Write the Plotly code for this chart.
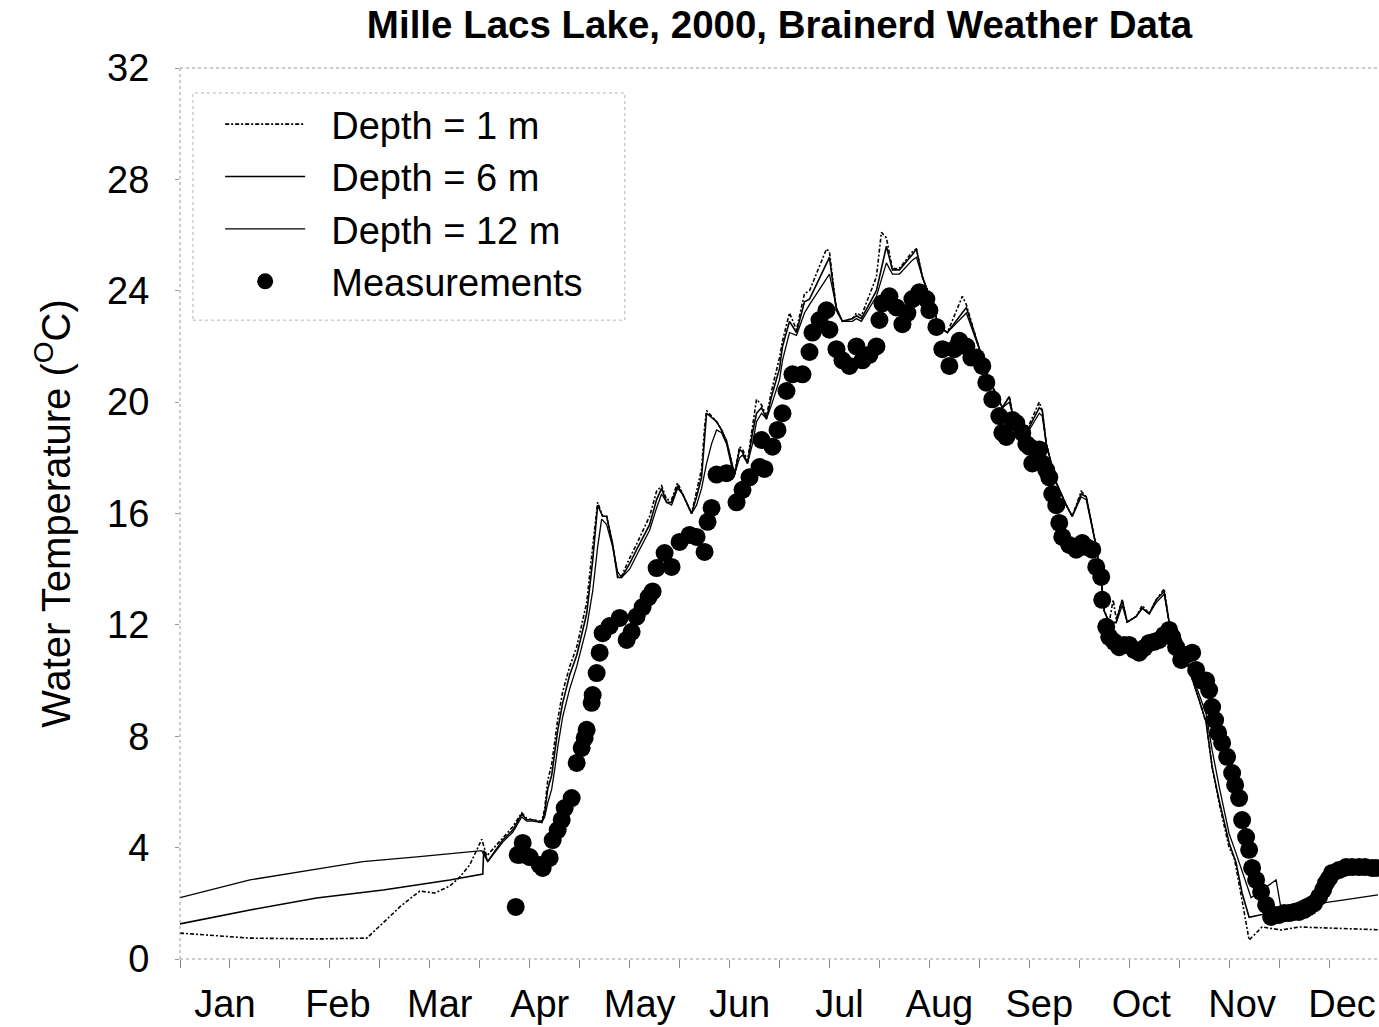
import plotly.graph_objects as go

# ---------------- data (day of year, water temperature in deg C) ----------------
month_pos = [13.5, 47.4, 78, 108, 138, 168, 198, 228, 258, 288.6, 318.9, 348.9]
month_labels = ["Jan", "Feb", "Mar", "Apr", "May", "Jun", "Jul", "Aug", "Sep", "Oct", "Nov", "Dec"]
y_ticks = [0, 4, 8, 12, 16, 20, 24, 28, 32]

depth1_day = [0, 21, 41, 55, 56.1, 60.9, 66, 72, 76.5, 81, 84, 87, 89.1, 90.6, 92.1, 96.9, 99.9, 102.6,
              104.1, 105.9, 108.6, 109.5, 110.4, 111.6, 112.5, 113.4, 114.9, 117, 119.1, 120.6, 122.1,
              123.9, 125.4, 126.9, 128.1, 129.9, 131.4, 132.6, 135, 137.1, 141, 143.1, 144.6, 146.1,
              147.6, 149.4, 150.9, 153.6, 155.1, 156.6, 157.5, 158.1, 161.1, 162.6, 164.1, 165.6, 166.5,
              168, 168.9, 170.4, 171.9, 173.1, 174.6, 176.1, 177.6, 180, 180.9, 183, 185.1, 187.5, 189,
              194.1, 195, 197.1, 198.9, 201.9, 203.1, 204.6, 209.1, 210.6, 212.1, 213.9, 216, 219.9,
              221.1, 222.9, 224.4, 228, 230.4, 234.9, 236.1, 240, 243, 246.9, 249, 249.9, 252.9, 255,
              258, 258.9, 260.1, 263.1, 266.1, 267.9, 270.6, 272.1, 275.1, 276.6, 277.5, 279, 280.2,
              281.1, 282.9, 284.4, 287.1, 288.9, 291, 293.1, 295.5, 297, 300, 303, 306, 308.1, 309.9,
              312, 315, 316.5, 318.9, 321, 324.9, 330.6, 336, 348, 359.7]
depth1_temp = [0.93, 0.75, 0.72, 0.75, 0.75, 1.29, 1.87, 2.44, 2.37, 2.62, 2.94, 3.38, 3.92, 4.3, 3.7,
               4.35, 4.75, 5.25, 5.05, 5.0, 4.95, 5.4, 6.4, 7.0, 7.8, 8.6, 9.6, 10.5, 11.2, 12.0, 12.8,
               14.8, 16.4, 15.9, 15.9, 14.9, 13.75, 13.75, 14.4, 14.9, 15.9, 16.8, 17.0, 16.5, 16.5,
               17.1, 16.7, 16.0, 16.8, 17.6, 19.1, 19.7, 19.3, 19.0, 18.6, 17.8, 17.4, 18.4, 18.3,
               17.9, 19.1, 20.1, 19.9, 19.5, 20.4, 21.6, 22.2, 23.2, 22.6, 23.9, 24.0, 25.5, 25.4,
               23.3, 22.9, 23.0, 23.2, 23.1, 24.5, 26.1, 25.9, 24.8, 24.8, 25.4, 25.5, 24.5, 24.0,
               22.7, 22.5, 23.8, 23.5, 21.9, 20.8, 19.8, 20.2, 19.6, 19.0, 19.2, 20.0, 19.7, 18.5,
               17.1, 16.3, 15.9, 16.8, 16.6, 14.8, 13.6, 12.5, 12.1, 12.9, 12.2, 12.9, 12.1, 12.3,
               12.7, 12.4, 12.9, 13.3, 12.07, 11.7, 10.4, 9.3, 8.5, 6.9, 5.6, 4.0, 3.66, 2.1, 0.68,
               1.15, 1.04, 1.15, 1.1, 1.05]

depth6_day = [0, 21, 41, 61, 81, 90.9, 91.2, 92.4, 96.9, 99.9, 102.6, 104.1, 105.9, 108.6, 109.5, 110.4,
              111.6, 112.5, 113.4, 114.9, 117, 119.1, 120.6, 122.1, 123.9, 125.4, 126.9, 128.1, 129.9,
              131.4, 132.6, 135, 137.1, 141, 143.1, 144.6, 146.1, 147.6, 149.4, 150.9, 153.6, 155.1,
              156.6, 157.5, 158.1, 161.1, 162.6, 164.1, 165.6, 166.5, 168, 168.9, 170.4, 171.9, 173.1,
              174.6, 176.1, 177.6, 180, 180.9, 183, 185.1, 187.5, 189, 195, 197.1, 198.9, 201.9, 203.1,
              204.6, 209.1, 212.1, 213.9, 216, 219.9, 221.1, 222.9, 224.4, 228, 230.4, 236.1, 240, 243,
              246.9, 249, 249.9, 252.9, 255, 258, 258.9, 260.1, 263.1, 266.1, 267.9, 270.6, 272.1,
              275.1, 276.6, 277.5, 279, 281.1, 282.9, 284.4, 287.1, 288.9, 291, 293.1, 295.5, 297, 300,
              303, 306, 308.1, 309.9, 312, 315, 317.1, 318.9, 321, 324.9, 330.6, 336, 342, 348, 354,
              359.7]
depth6_temp = [1.26, 1.76, 2.19, 2.48, 2.84, 3.05, 3.9, 3.5, 4.27, 4.63, 5.2, 5.0, 5.0, 4.9, 5.25, 6.1,
               6.6, 7.4, 8.2, 9.2, 10.2, 10.9, 11.7, 12.4, 14.3, 16.3, 15.9, 15.9, 14.9, 13.7, 13.7,
               14.2, 14.7, 15.6, 16.5, 16.9, 16.4, 16.4, 17.0, 16.7, 16.0, 16.6, 17.3, 18.9, 19.6,
               19.3, 19.0, 18.6, 17.8, 17.4, 18.3, 18.2, 17.8, 18.9, 19.6, 19.8, 19.4, 20.2, 21.2,
               22.0, 22.9, 22.5, 23.6, 23.7, 25.2, 23.3, 22.9, 23.0, 23.1, 23.0, 24.0, 25.6, 24.75,
               24.75, 25.3, 25.5, 24.5, 24.0, 22.7, 22.5, 23.4, 21.9, 20.8, 19.8, 20.2, 19.6, 19.0,
               19.1, 19.8, 19.7, 18.5, 17.1, 16.3, 15.9, 16.7, 16.6, 14.8, 13.6, 12.5, 12.07, 12.1,
               12.9, 12.1, 12.3, 12.6, 12.4, 12.9, 13.2, 12.07, 11.7, 10.4, 9.3, 8.5, 6.9, 5.7, 4.17,
               3.45, 2.37, 1.5, 1.6, 1.8, 2.05, 2.4, 2.9, 3.15, 3.25]

depth12_day = [0, 21, 41, 54.9, 71.1, 90.6, 92.4, 96.9, 99.9, 102.6, 104.1, 105.9, 108.6, 109.5, 110.4,
               111.6, 112.5, 113.4, 114.9, 117, 119.1, 120.6, 122.1, 123.9, 125.4, 126.6, 128.1, 129.9,
               131.4, 132.6, 135, 137.1, 141, 143.1, 144.6, 146.1, 147.6, 149.4, 150.9, 153.6, 155.1,
               156.6, 158.1, 159.6, 161.1, 162.6, 164.1, 165.6, 166.5, 168, 168.9, 170.4, 171.9, 173.1,
               174.6, 176.1, 177.6, 180, 180.9, 183, 185.1, 187.5, 189, 195, 197.1, 198.9, 201.9, 203.1,
               204.6, 209.1, 212.1, 213.9, 216, 219.9, 221.1, 222.9, 224.4, 228, 230.4, 236.1, 240, 243,
               246.9, 249, 249.9, 252.9, 255, 258, 258.9, 260.1, 263.1, 266.1, 267.9, 270.6, 272.1,
               275.1, 276.6, 277.5, 279, 281.1, 282.9, 284.4, 287.1, 288.9, 291, 293.1, 295.5, 297, 300,
               303, 306, 308.1, 309.9, 312, 315, 316.5, 321.6, 329.1, 330.6, 336, 348, 359.7]
depth12_temp = [2.2, 2.84, 3.23, 3.5, 3.67, 3.89, 3.5, 4.2, 4.55, 5.1, 4.95, 4.95, 4.9, 5.1, 5.6, 6.1,
                6.8, 7.6, 8.7, 9.7, 10.5, 11.2, 11.9, 13.2, 14.8, 15.8, 15.6, 14.8, 13.9, 13.7, 14.0,
                14.5, 15.4, 16.2, 16.7, 16.4, 16.3, 16.9, 16.7, 16.0, 16.3, 16.9, 17.8, 18.5, 19.0,
                18.9, 18.5, 17.7, 17.4, 18.0, 18.1, 17.8, 18.5, 19.3, 19.6, 19.4, 19.9, 20.8, 21.5,
                22.5, 22.4, 23.2, 23.5, 24.6, 23.4, 22.9, 22.9, 23.0, 22.9, 23.8, 25.0, 24.6, 24.6,
                25.1, 25.2, 24.5, 24.0, 22.7, 22.5, 23.2, 21.9, 20.8, 19.8, 20.0, 19.6, 19.0, 19.0,
                19.6, 19.5, 18.5, 17.1, 16.3, 15.9, 16.6, 16.5, 14.8, 13.6, 12.5, 12.07, 12.07, 12.7,
                12.1, 12.3, 12.6, 12.4, 12.8, 13.1, 12.1, 11.7, 10.5, 9.5, 8.8, 7.5, 6.2, 4.5, 4.0,
                2.2, 2.84, 1.8, 1.9, 2.1, 2.3]

meas_day = [100.8, 101.4, 102, 102.9, 105, 108, 108.9, 111, 111.9, 113.4, 114.6, 115.5, 117.6, 119.1,
            120.6, 121.5, 122.1, 123.6, 123.9, 125.1, 126, 126.9, 129, 132, 134.1, 135.6, 137.1, 138.9,
            140.7, 141.9, 143.1, 145.5, 147.6, 150, 153, 155.1, 157.5, 158.4, 159.6, 161.1, 164.1,
            167.1, 168.9, 171, 174, 174.6, 175.5, 177.9, 179.4, 180.9, 182.1, 183.9, 186.9, 189, 189.9,
            192, 194.1, 195, 197.1, 198.9, 201, 203.1, 204.9, 207, 209.1, 210, 210.9, 213, 215.1,
            216.9, 218.4, 219.9, 222, 224.1, 225, 227.1, 228.9, 231, 232.5, 234, 236.1, 237.6, 239.1,
            240.9, 242.1, 243.9, 246, 246.9, 248.1, 249.9, 251.1, 252.9, 254.1, 255, 255.9, 258,
            258.9, 260.1, 261, 261.9, 263.1, 264, 264.9, 267, 269.1, 270.9, 272.1, 273.9, 275.1,
            276.6, 276.9, 278.1, 279, 280.5, 282, 283.5, 285, 286.5, 288, 289.5, 291, 292.5, 294,
            295.5, 297, 297.9, 299.1, 300.6, 302.1, 303.9, 305.1, 306.9, 308.1, 309, 309.9, 310.8,
            311.7, 312.9, 314.4, 315.9, 316.8, 318, 318.9, 320.1, 321, 321.9, 323.1, 324.6, 326.1,
            327.6, 328.8, 330, 331.5, 333, 334.5, 336, 337.5, 339, 340.5, 342, 343.2, 344.1, 345,
            345.9, 348, 350.1, 351.9, 354, 355.8, 357.9, 359.1]
meas_temp = [1.87, 3.74, 3.74, 4.17, 3.66, 3.38, 3.27, 3.63, 4.27, 4.63, 5.0, 5.42, 5.78, 7.04, 7.58,
             7.94, 8.23, 9.2, 9.48, 10.27, 11.0, 11.7, 11.96, 12.25, 11.46, 11.75, 12.3, 12.64, 13.0,
             13.2, 14.04, 14.58, 14.08, 14.98, 15.23, 15.16, 14.62, 15.7, 16.2, 17.4, 17.45, 16.4,
             16.85, 17.3, 17.67, 18.64, 17.6, 18.4, 19.0, 19.6, 20.4, 21.0, 21.0, 21.8, 22.5, 22.95,
             23.3, 22.6, 21.9, 21.5, 21.3, 22.0, 21.5, 21.7, 22.0, 22.95, 23.55, 23.8, 23.4, 22.8,
             23.2, 23.7, 23.95, 23.7, 23.3, 22.7, 21.9, 21.3, 21.9, 22.2, 22.0, 21.6, 21.6, 21.3,
             20.7, 20.1, 19.5, 18.9, 18.75, 19.36, 19.25, 18.9, 18.5, 18.4, 17.8, 18.3, 17.8, 17.56,
             17.3, 16.7, 16.3, 15.66, 15.16, 14.87, 14.7, 14.94, 14.8, 14.7, 14.08, 13.72, 12.9,
             11.93, 11.57, 11.39, 11.2, 11.28, 11.28, 11.1, 11.0, 11.17, 11.35, 11.39, 11.46, 11.64,
             11.82, 11.57, 11.2, 10.74, 10.92, 11.0, 10.38, 10.0, 10.0, 9.66, 9.05, 8.58, 8.12, 7.76,
             7.26, 6.68, 6.25, 5.78, 4.99, 4.38, 3.92, 3.27, 2.84, 2.41, 1.94, 1.51, 1.58, 1.58,
             1.65, 1.65, 1.69, 1.69, 1.76, 1.87, 2.0, 2.23, 2.48, 2.73, 2.9, 3.09, 3.2, 3.3, 3.3,
             3.3, 3.3, 3.27, 3.27]

FONT = "Liberation Sans, Arial, Helvetica, sans-serif"
NB = "\u00a0\u00a0"  # small gap between legend sample and label

fig = go.Figure()

fig.add_trace(go.Scatter(
    x=meas_day, y=meas_temp, mode="markers", name=NB + "Measurements",
    marker=dict(color="black", size=18, line=dict(width=0)), legendrank=4,
    legendgroup="m"))
fig.add_trace(go.Scatter(
    x=depth1_day, y=depth1_temp, mode="lines", name=NB + "Depth = 1 m",
    line=dict(color="black", width=1.6, dash="4px,2px,2px,2px"), legendrank=1,
    legendgroup="a"))
fig.add_trace(go.Scatter(
    x=depth6_day, y=depth6_temp, mode="lines", name=NB + "Depth = 6 m",
    line=dict(color="black", width=1.6), legendrank=2, legendgroup="b"))
fig.add_trace(go.Scatter(
    x=depth12_day, y=depth12_temp, mode="lines", name=NB + "Depth = 12 m",
    line=dict(color="black", width=1.3), legendrank=3, legendgroup="c"))

# faint dotted frame and legend box, like the scanned original
frame = dict(color="#9a9a9a", width=1, dash="dot")
fig.add_shape(type="line", xref="paper", yref="paper", x0=0, x1=1, y0=1, y1=1, line=frame)
fig.add_shape(type="line", xref="paper", yref="paper", x0=0, x1=1, y0=0, y1=0, line=frame)
fig.add_shape(type="line", xref="paper", yref="paper", x0=0, x1=0, y0=0, y1=1, line=frame)
fig.add_shape(type="rect", xref="paper", yref="paper", x0=0.0108, x1=0.371, y0=0.717, y1=0.972,
              line=dict(color="#b5b5b5", width=1, dash="dot"))

fig.update_layout(
    width=1379, height=1027,
    margin=dict(l=180, r=0, t=68, b=68),
    paper_bgcolor="white", plot_bgcolor="white",
    font=dict(family=FONT, color="black", size=38),
    title=dict(text="<b>Mille Lacs Lake, 2000, Brainerd Weather Data</b>",
               x=0.5, xref="paper", xanchor="center",
               y=1 - 25 / 1027, yref="container", yanchor="middle",
               font=dict(family=FONT, size=38.5, color="black")),
    showlegend=True,
    legend=dict(x=0.0335, y=0.972, xanchor="left", yanchor="top",
                bgcolor="rgba(255,255,255,0)", borderwidth=0,
                font=dict(family=FONT, size=38, color="black"),
                itemwidth=80, tracegroupgap=4, traceorder="normal"),
    xaxis=dict(range=[0, 360], tickmode="array", tickvals=month_pos, ticktext=month_labels,
               ticks="", showgrid=False, zeroline=False, showline=False,
               ticklabelstandoff=19,
               tickfont=dict(family=FONT, size=38, color="black"),
               minor=dict(tick0=0, dtick=15, ticks="outside", ticklen=8,
                          tickcolor="#8a8a8a", showgrid=False)),
    yaxis=dict(range=[0, 32], tickmode="array", tickvals=y_ticks,
               ticks="outside", ticklen=4, tickcolor="#9a9a9a",
               showgrid=False, zeroline=False, showline=False,
               ticklabelstandoff=18,
               tickfont=dict(family=FONT, size=38, color="black"),
               title=dict(text="Water Temperature (<sup>O</sup>C)", standoff=24,
                          font=dict(family=FONT, size=40, color="black"))),
)

fig.write_html("out.html")
